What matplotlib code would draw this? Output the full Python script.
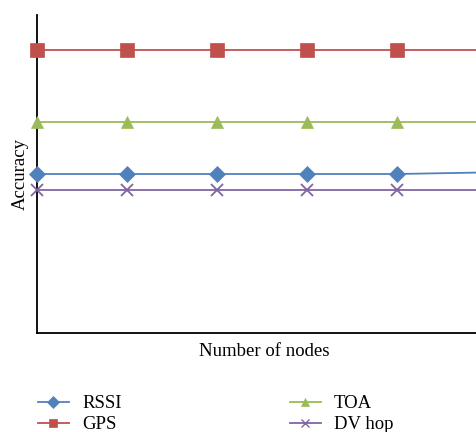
import matplotlib
matplotlib.use("Agg")
import matplotlib.pyplot as plt
from matplotlib.lines import Line2D

plt.rcParams['font.family'] = ['Liberation Serif', 'DejaVu Serif']

nodes = [1, 2, 3, 4, 5, 6]
series = ["RSSI", "GPS", "TOA", "DV hop"]
rssi = [0.50, 0.50, 0.50, 0.50, 0.50, 0.505]
gps = [0.89, 0.89, 0.89, 0.89, 0.89, 0.89]
toa = [0.663, 0.663, 0.663, 0.663, 0.663, 0.663]
dvhop = [0.45, 0.45, 0.45, 0.45, 0.45, 0.45]

colors = {"RSSI": "#4F81BD", "GPS": "#C0504D", "TOA": "#9BBB59", "DV hop": "#8064A2"}
markers = {"RSSI": "D", "GPS": "s", "TOA": "^", "DV hop": "x"}
msizes = {"RSSI": 8, "GPS": 10, "TOA": 9, "DV hop": 9}
data = {"RSSI": rssi, "GPS": gps, "TOA": toa, "DV hop": dvhop}

W, H = 476, 432
fig = plt.figure(figsize=(W / 100, H / 100), dpi=100)
left, right, top, bottom = 37, 532, 15, 333
ax = fig.add_axes([left / W, 1 - bottom / H, (right - left) / W, (bottom - top) / H])

for s in series:
    ax.plot(nodes, data[s], color=colors[s], marker=markers[s], markersize=msizes[s],
            linewidth=1.3, markeredgewidth=1.3 if s == "DV hop" else 0.5,
            markeredgecolor=colors[s], clip_on=False, zorder=3)

ax.set_xlim(1, 6.5)
ax.set_ylim(0, 1)
ax.set_xticks([])
ax.set_yticks([])
for sp in ["top", "right"]:
    ax.spines[sp].set_visible(False)
for sp in ["left", "bottom"]:
    ax.spines[sp].set_linewidth(1.3)
    ax.spines[sp].set_color("black")

fs = 13.5
fig.text(264 / W, 1 - 352 / H, "Number of nodes", fontsize=fs, ha="center", va="center")
ax.set_ylabel("Accuracy", fontsize=fs, labelpad=6)

def handle(s):
    return Line2D([], [], color=colors[s], marker=markers[s], markersize=6,
                  markeredgewidth=1.0 if s == "DV hop" else 0.5, markeredgecolor=colors[s],
                  linewidth=1.3)

for cols, x0 in ((["RSSI", "GPS"], 38), (["TOA", "DV hop"], 290)):
    fig.legend([handle(s) for s in cols], cols, loc="upper left",
               bbox_to_anchor=(x0 / W, 1 - 395 / H), frameon=False, fontsize=fs,
               handlelength=1.65, handletextpad=0.7, labelspacing=0.22,
               borderpad=0, borderaxespad=0)

fig.savefig("out.png", dpi=100)
